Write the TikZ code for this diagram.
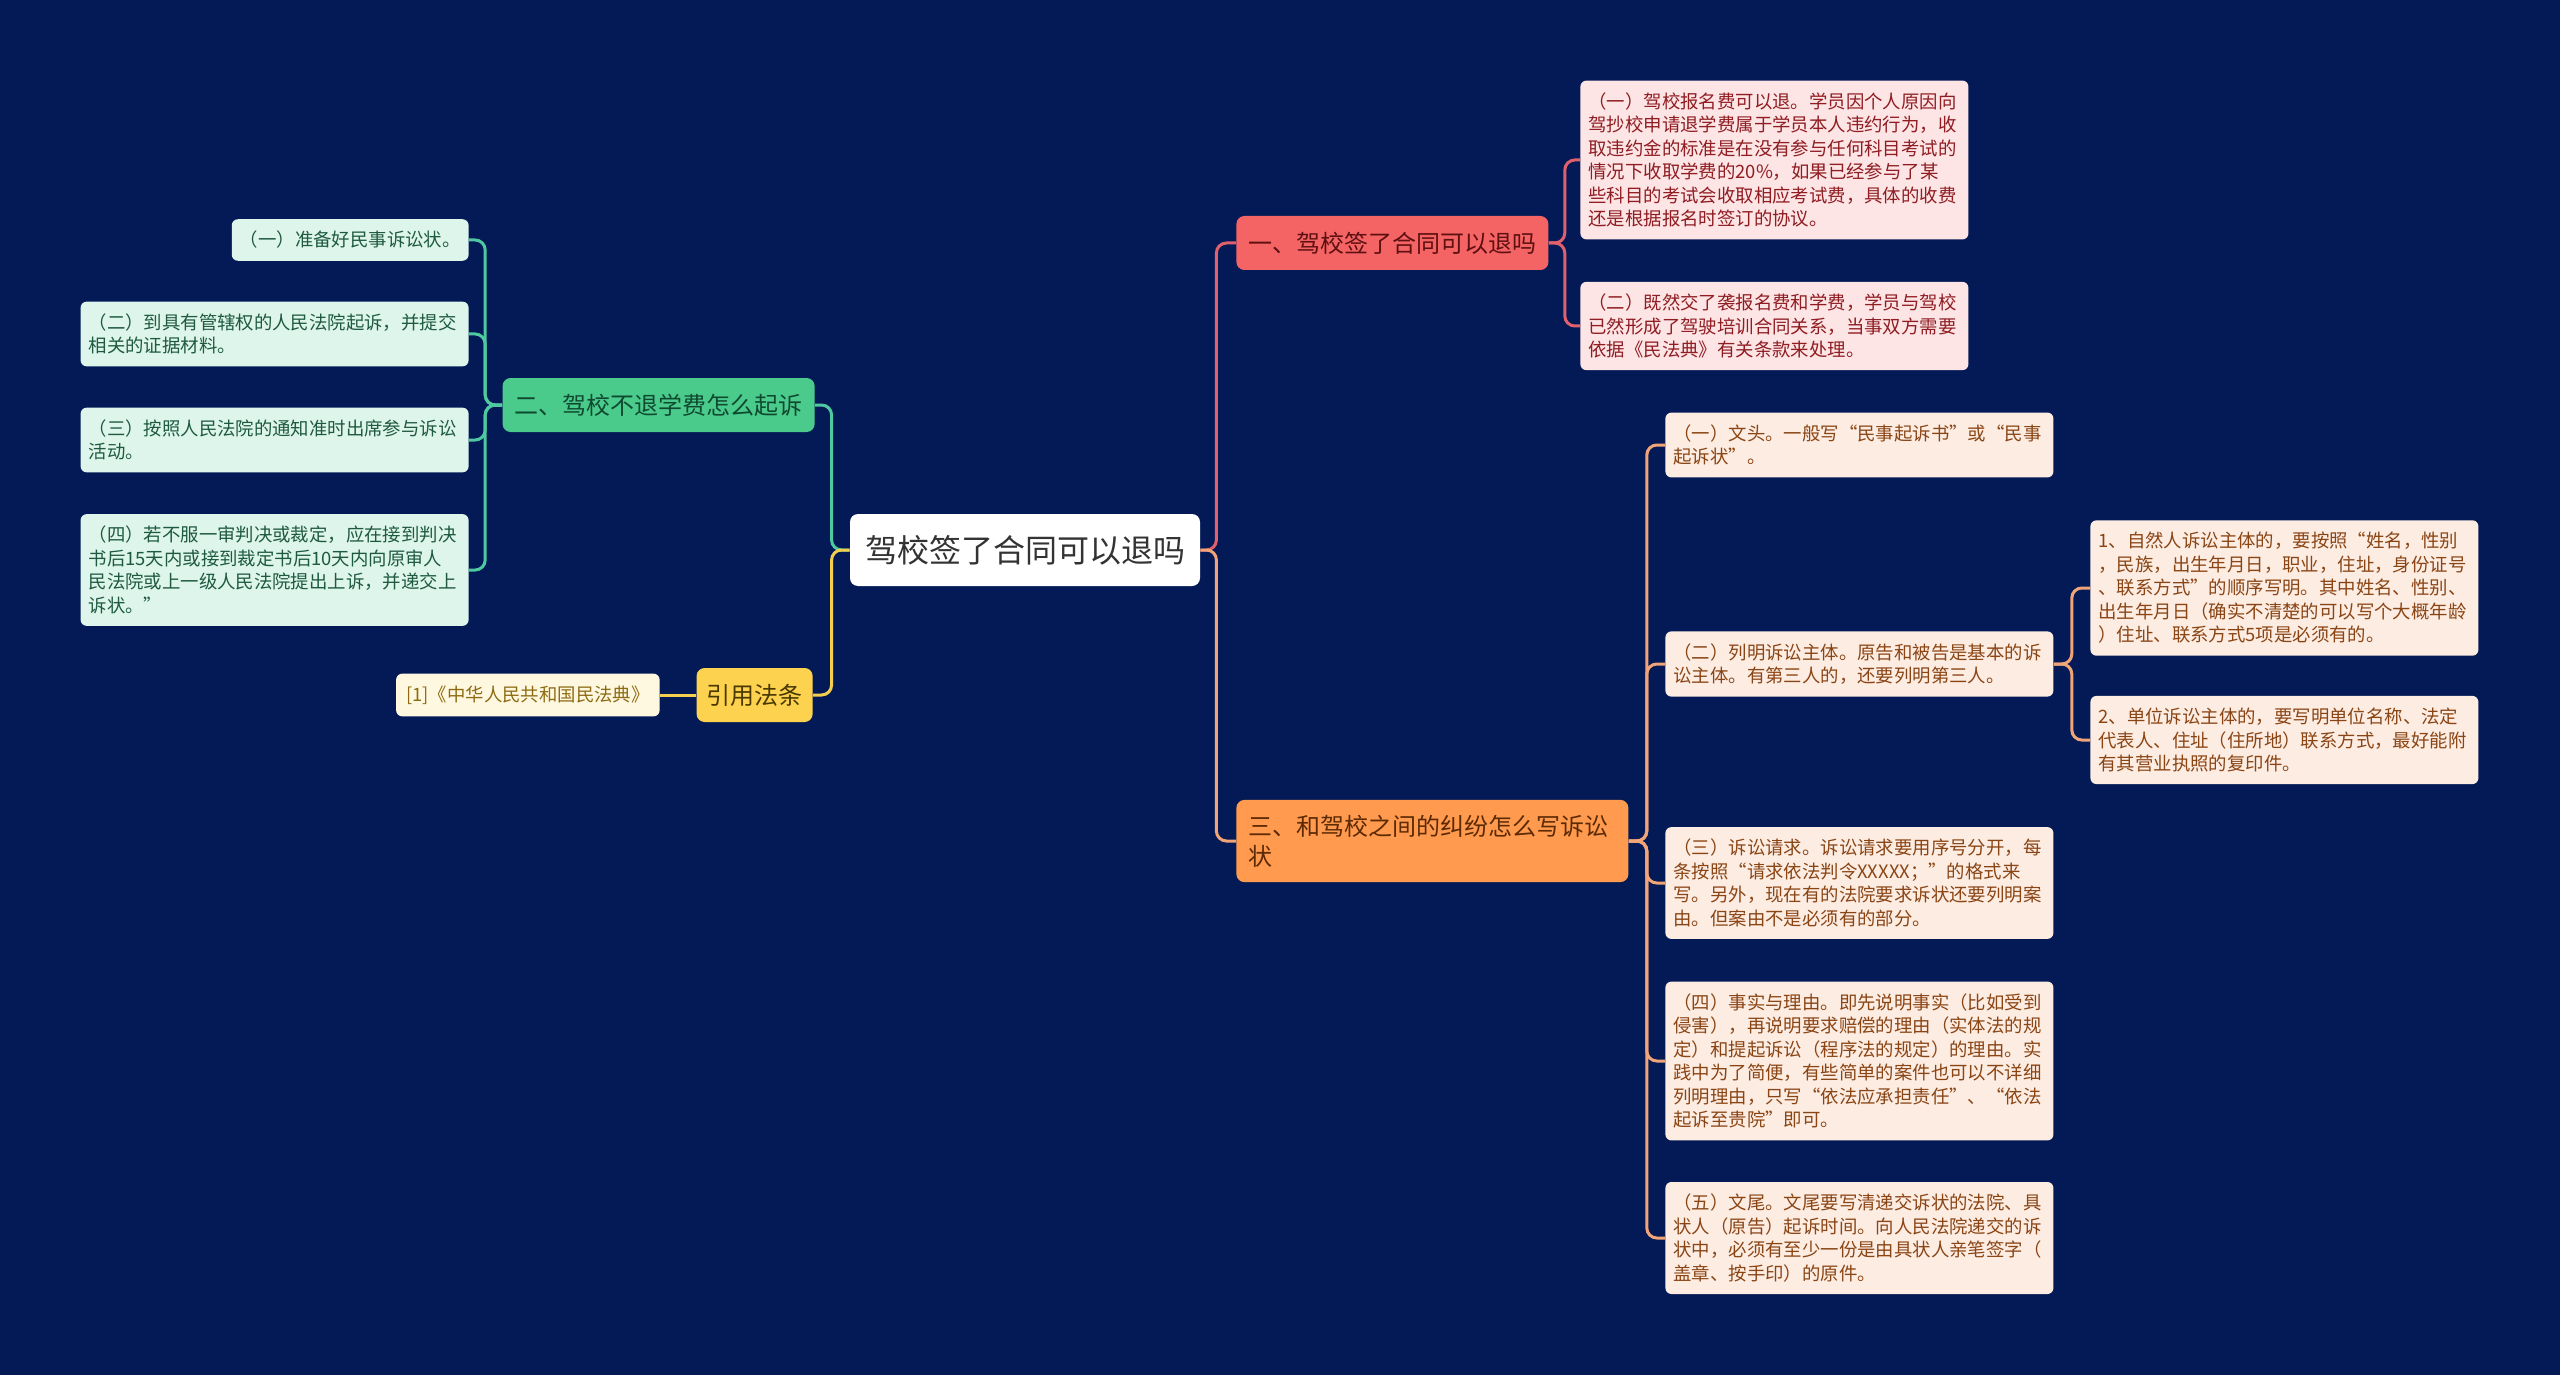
\documentclass[tikz,border=0pt]{standalone}
\usepackage{fontspec}
\setmainfont{Noto Sans CJK SC}
\definecolor{navy}{HTML}{031A56}
\definecolor{redfill}{HTML}{F46465}
\definecolor{redtext}{HTML}{5E1010}
\definecolor{redleaf}{HTML}{FDE4E5}
\definecolor{redleaftext}{HTML}{8F1D22}
\definecolor{redline}{HTML}{E0616B}
\definecolor{greenfill}{HTML}{4ACB8C}
\definecolor{greentext}{HTML}{0F4A30}
\definecolor{greenleaf}{HTML}{DDF5EA}
\definecolor{greenleaftext}{HTML}{1F5A40}
\definecolor{greenline}{HTML}{4EC9A0}
\definecolor{orangefill}{HTML}{FF9A4E}
\definecolor{orangetext}{HTML}{5C2A05}
\definecolor{orangeleaf}{HTML}{FDECE2}
\definecolor{orangeleaftext}{HTML}{8A4515}
\definecolor{orangeline}{HTML}{F0A477}
\definecolor{yellowfill}{HTML}{FCD24E}
\definecolor{yellowtext}{HTML}{4A3800}
\definecolor{yellowleaf}{HTML}{FFF8E1}
\definecolor{yellowleaftext}{HTML}{8D6B12}
\definecolor{yellowline}{HTML}{F4CE4F}

\begin{document}
\begin{tikzpicture}[x=0.5pt,y=-0.5pt,
    root/.style={fill=white,text=black!80,rounded corners=4pt,inner xsep=7.5pt,
      minimum height=36pt,font=\fontsize{16pt}{19pt}\selectfont},
    topic/.style={rounded corners=4pt,inner xsep=6pt,inner ysep=7.5pt,
      minimum height=27pt,align=left,font=\fontsize{12pt}{15pt}\selectfont},
    leaf/.style={rounded corners=3pt,inner xsep=4pt,inner ysep=6pt,
      text width=186pt,align=left,font=\fontsize{9.2pt}{11.75pt}\selectfont},
    redleafbox/.style={leaf,fill=redleaf,text=redleaftext},
    greenleafbox/.style={leaf,fill=greenleaf,text=greenleaftext},
    orangeleafbox/.style={leaf,fill=orangeleaf,text=orangeleaftext},
    link/.style={line width=1.5pt,rounded corners=5pt}]

  \fill[navy] (0,0) rectangle (2560,1375);
  \useasboundingbox (0,0) rectangle (2560,1375);

  \node[root] (root) at (1025,550) {驾校签了合同可以退吗};

  \node[topic,fill=redfill,text=redtext,anchor=west]       (refund)  at (1236,243) {一、驾校签了合同可以退吗};
  \node[topic,fill=orangefill,text=orangetext,anchor=west,text width=184pt] (complaint) at (1236,841) {三、和驾校之间的纠纷怎么写诉讼\\状};
  \node[topic,fill=greenfill,text=greentext,anchor=east]   (sue)     at (815,405)  {二、驾校不退学费怎么起诉};
  \node[topic,fill=yellowfill,text=yellowtext,anchor=east,inner xsep=5pt] (law) at (813,695) {引用法条};

  \node[leaf,fill=yellowleaf,text=yellowleaftext,anchor=east,text width=, inner xsep=5pt] (civil) at (660,695) {[1]《中华人民共和国民法典》};

  \node[redleafbox,anchor=west] (fee)  at (1580,160) {（一）驾校报名费可以退。学员因个人原因向\\驾抄校申请退学费属于学员本人违约行为，收\\取违约金的标准是在没有参与任何科目考试的\\情况下收取学费的20\%，如果已经参与了某\\些科目的考试会收取相应考试费，具体的收费\\还是根据报名时签订的协议。};
  \node[redleafbox,anchor=west] (contract) at (1580,326) {（二）既然交了袭报名费和学费，学员与驾校\\已然形成了驾驶培训合同关系，当事双方需要\\依据《民法典》有关条款来处理。};

  \node[greenleafbox,anchor=east,text width=] (prepare) at (469,240) {（一）准备好民事诉讼状。};
  \node[greenleafbox,anchor=east] (court)   at (469,334) {（二）到具有管辖权的人民法院起诉，并提交\\相关的证据材料。};
  \node[greenleafbox,anchor=east] (attend)  at (469,440) {（三）按照人民法院的通知准时出席参与诉讼\\活动。};
  \node[greenleafbox,anchor=east] (appeal)  at (469,570) {（四）若不服一审判决或裁定，应在接到判决\\书后15天内或接到裁定书后10天内向原审人\\民法院或上一级人民法院提出上诉，并递交上\\诉状。”};

  \node[orangeleafbox,anchor=west] (head)    at (1665,445)  {（一）文头。一般写“民事起诉书”或“民事\\起诉状”。};
  \node[orangeleafbox,anchor=west] (parties) at (1665,664)  {（二）列明诉讼主体。原告和被告是基本的诉\\讼主体。有第三人的，还要列明第三人。};
  \node[orangeleafbox,anchor=west] (claims)  at (1665,883)  {（三）诉讼请求。诉讼请求要用序号分开，每\\条按照“请求依法判令XXXXX；”的格式来\\写。另外，现在有的法院要求诉状还要列明案\\由。但案由不是必须有的部分。};
  \node[orangeleafbox,anchor=west] (facts)   at (1665,1061) {（四）事实与理由。即先说明事实（比如受到\\侵害），再说明要求赔偿的理由（实体法的规\\定）和提起诉讼（程序法的规定）的理由。实\\践中为了简便，有些简单的案件也可以不详细\\列明理由，只写“依法应承担责任”、“依法\\起诉至贵院”即可。};
  \node[orangeleafbox,anchor=west] (tail)    at (1665,1238) {（五）文尾。文尾要写清递交诉状的法院、具\\状人（原告）起诉时间。向人民法院递交的诉\\状中，必须有至少一份是由具状人亲笔签字（\\盖章、按手印）的原件。};

  \node[orangeleafbox,anchor=west] (person) at (2090,588) {1、自然人诉讼主体的，要按照“姓名，性别\\，民族，出生年月日，职业，住址，身份证号\\、联系方式”的顺序写明。其中姓名、性别、\\出生年月日（确实不清楚的可以写个大概年龄\\）住址、联系方式5项是必须有的。};
  \node[orangeleafbox,anchor=west] (unit)   at (2090,740) {2、单位诉讼主体的，要写明单位名称、法定\\代表人、住址（住所地）联系方式，最好能附\\有其营业执照的复印件。};

  \draw[link,redline]    (root.east) -- ++(16,0) |- (refund.west);
  \draw[link,orangeline] (root.east) -- ++(16,0) |- (complaint.west);
  \draw[link,greenline]  (root.west) -- ++(-18,0) |- (sue.east);
  \draw[link,yellowline] (root.west) -- ++(-18,0) |- (law.east);
  \draw[link,yellowline] (law.west) -- (civil.east);

  \draw[link,redline] (refund.east) -- ++(16,0) |- (fee.west);
  \draw[link,redline] (refund.east) -- ++(16,0) |- (contract.west);

  \draw[link,greenline] (sue.west) -- ++(-17,0) |- (prepare.east);
  \draw[link,greenline] (sue.west) -- ++(-17,0) |- (court.east);
  \draw[link,greenline] (sue.west) -- ++(-17,0) |- (attend.east);
  \draw[link,greenline] (sue.west) -- ++(-17,0) |- (appeal.east);

  \draw[link,orangeline] (complaint.east) -- ++(18,0) |- (head.west);
  \draw[link,orangeline] (complaint.east) -- ++(18,0) |- (parties.west);
  \draw[link,orangeline] (complaint.east) -- ++(18,0) |- (claims.west);
  \draw[link,orangeline] (complaint.east) -- ++(18,0) |- (facts.west);
  \draw[link,orangeline] (complaint.east) -- ++(18,0) |- (tail.west);

  \draw[link,orangeline] (parties.east) -- ++(18,0) |- (person.west);
  \draw[link,orangeline] (parties.east) -- ++(18,0) |- (unit.west);
\end{tikzpicture}
\end{document}
